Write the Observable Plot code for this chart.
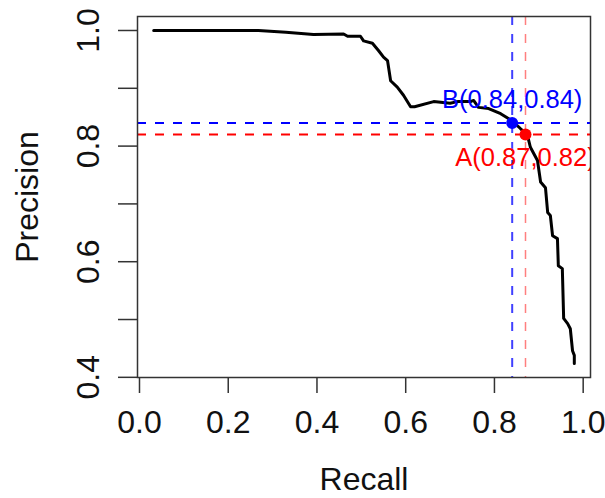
<!DOCTYPE html>
<html>
<head>
<meta charset="utf-8">
<script src="https://cdn.jsdelivr.net/npm/d3@7"></script>
<script src="https://cdn.jsdelivr.net/npm/@observablehq/plot@0.6"></script>
<style>
  html, body { margin: 0; padding: 0; background: #fff; }
</style>
</head>
<body>
<div id="chart"></div>
<script>
const recall = [0.032, 0.268, 0.33, 0.392, 0.460, 0.469, 0.498, 0.505, 0.525, 0.539, 0.550, 0.559, 0.566, 0.581, 0.595, 0.611, 0.620, 0.663, 0.700, 0.717, 0.746, 0.753, 0.764, 0.787, 0.814, 0.841, 0.859, 0.874, 0.881, 0.897, 0.904, 0.915, 0.920, 0.926, 0.931, 0.942, 0.944, 0.953, 0.956, 0.965, 0.971, 0.976, 0.980, 0.980];
const precision = [1.000, 1.000, 0.997, 0.993, 0.994, 0.990, 0.990, 0.982, 0.978, 0.965, 0.954, 0.948, 0.913, 0.902, 0.888, 0.868, 0.868, 0.877, 0.874, 0.877, 0.877, 0.879, 0.867, 0.865, 0.856, 0.843, 0.830, 0.820, 0.798, 0.775, 0.738, 0.728, 0.685, 0.680, 0.645, 0.640, 0.593, 0.588, 0.502, 0.493, 0.484, 0.446, 0.438, 0.424];

const pointNames = ["A", "B"];
const pointRecall = [0.87, 0.84];
const pointPrecision = [0.82, 0.84];
const pointColors = ["#ff0000", "#0000ff"];

const xTicks = [0, 0.2, 0.4, 0.6, 0.8, 1.0];
const xTickLabels = ["0.0", "0.2", "0.4", "0.6", "0.8", "1.0"];
const yTicks = [0.4, 0.5, 0.6, 0.7, 0.8, 0.9, 1.0];
const yTickLabels = ["0.4", "", "0.6", "", "0.8", "", "1.0"];

const curve = recall.map((r, i) => ({recall: r, precision: precision[i]}));
const pts = pointNames.map((n, i) => ({
  name: n, recall: pointRecall[i], precision: pointPrecision[i], color: pointColors[i],
  label: `${n}(${pointRecall[i].toFixed(2)},${pointPrecision[i].toFixed(2)})`
}));

const FONT = "Liberation Sans, Arial, Helvetica, sans-serif";
const axisColor = "#333";

const chart = Plot.plot({
  width: 605,
  height: 498,
  marginLeft: 137,
  marginRight: 15,
  marginTop: 16,
  marginBottom: 121,
  style: {fontFamily: FONT, background: "#fff", color: "#000"},
  x: {domain: [-0.0045, 1.0165], axis: null},
  y: {domain: [0.3997, 1.0242], axis: null},
  marks: [
    Plot.axisX({
      ticks: xTicks, tickSize: 16, tickPadding: 17, fontSize: 32,
      stroke: axisColor, strokeWidth: 1.5, label: null, fill: "#111",
      tickFormat: d => xTickLabels[xTicks.indexOf(d)]
    }),
    Plot.axisY({
      ticks: yTicks, tickSize: 19, tickPadding: 20, tickRotate: -90, fontSize: 32,
      stroke: axisColor, strokeWidth: 1.5, label: null, fill: "#111",
      tickFormat: d => yTickLabels[yTicks.findIndex(t => Math.abs(t - d) < 1e-9)]
    }),
    Plot.text(["Recall"], {frameAnchor: "bottom", dy: 112, lineAnchor: "bottom", fontSize: 32, fill: "#111"}),
    Plot.text(["Precision"], {frameAnchor: "left", dx: -100, rotate: -90, lineAnchor: "bottom", textAnchor: "middle", fontSize: 32, fill: "#111"}),
    Plot.line(curve, {x: "recall", y: "precision", stroke: "#000", strokeWidth: 3, strokeLinejoin: "round"}),
    Plot.ruleY([pts[1]], {y: "precision", stroke: "#0000ff", strokeWidth: 2, strokeDasharray: "9,9"}),
    Plot.ruleX([pts[1]], {x: "recall", stroke: "#0000ff", strokeWidth: 2, strokeOpacity: 0.75, strokeDasharray: "9,9"}),
    Plot.ruleY([pts[0]], {y: "precision", stroke: "#ff0000", strokeWidth: 2, strokeDasharray: "9,9"}),
    Plot.ruleX([pts[0]], {x: "recall", stroke: "#ff0000", strokeWidth: 1.5, strokeOpacity: 0.5, strokeDasharray: "9,9"}),
    Plot.dot(pts, {x: "recall", y: "precision", r: 6, fill: "color", stroke: null}),
    Plot.text([pts[1]], {x: "recall", y: "precision", text: "label", dy: -15, lineAnchor: "bottom", fontSize: 25.5, fill: "#0000ff", clip: true}),
    Plot.text([pts[0]], {x: "recall", y: "precision", text: "label", dy: 13, lineAnchor: "top", fontSize: 25.5, fill: "#ff0000", clip: true}),
    Plot.frame({stroke: axisColor, strokeWidth: 1.5})
  ]
});
document.getElementById("chart").appendChild(chart);
</script>
</body>
</html>
